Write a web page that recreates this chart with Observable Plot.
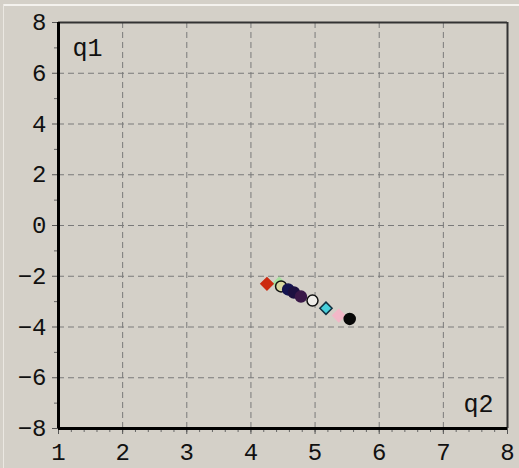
<!DOCTYPE html>
<html>
<head>
<meta charset="utf-8">
<script src="https://cdn.jsdelivr.net/npm/d3@7"></script>
<script src="https://cdn.jsdelivr.net/npm/@observablehq/plot@0.6"></script>
<style>
  html, body { margin: 0; padding: 0; background: #d4d0c8; }
  #wrap { position: relative; width: 519px; height: 468px; overflow: hidden; }
  #edge { position: absolute; left: 3px; top: 4px; right: 0; height: 0; border-top: 2px solid #f4f2ee; }
  #edgeL { position: absolute; left: 3px; top: 4px; bottom: 0; width: 0; border-left: 1px solid #ebe8e2; }
  svg text { font-family: "Liberation Mono", "DejaVu Sans Mono", monospace; }
</style>
</head>
<body>
<div id="wrap"><div id="edge"></div><div id="edgeL"></div></div>
<script>
// Tick labels
const xTicks = [1, 2, 3, 4, 5, 6, 7, 8];
const yTicks = [-8, -6, -4, -2, 0, 2, 4, 6, 8];
const xGrid = [2, 3, 4, 5, 6, 7];
const yGrid = [-6, -4, -2, 0, 2, 4, 6];
const xMinor = d3.range(1, 8.001, 0.2).map(v => +v.toFixed(1));
const yMinor = [-7, -5, -3, -1, 1, 3, 5, 7];

// Data: q2 on x, q1 on y
const q2 = [4.44, 5.37, 4.25, 4.47, 4.58, 4.67, 4.78, 4.96, 5.17, 5.54];
const q1 = [-2.29, -3.55, -2.30, -2.40, -2.52, -2.64, -2.80, -2.96, -3.26, -3.68];

// Marker styles (one per point)
const markerSymbol = ["diamond2", "diamond2", "diamond2", "circle", "circle", "circle", "circle", "circle", "diamond2", "circle"];
const markerFill   = ["#a8e0a0", "#f2b8c8", "#cc2a10", "#d8d8a0", "#141450", "#1c1040", "#3a1848", "#eeece8", "#48d0dc", "#080808"];
const markerStroke = ["#a8e0a0", "#f2b8c8", "#cc2a10", "#111111", "#141450", "#1c1040", "#3a1848", "#111111", "#103040", "#080808"];

const points = q2.map((x, i) => ({
  x, y: q1[i], symbol: markerSymbol[i], fill: markerFill[i], stroke: markerStroke[i]
}));

const chart = Plot.plot({
  width: 519,
  height: 468,
  marginLeft: 58,
  marginRight: 12,
  marginTop: 22,
  marginBottom: 40,
  style: { background: "transparent", fontSize: "24px", color: "#111" },
  x: { domain: [1, 8], label: null },
  y: { domain: [-8, 8], label: null },
  color: { type: "identity" },
  symbol: { type: "identity" },
  marks: [
    Plot.ruleX(xGrid, { stroke: "#7a7a7a", strokeDasharray: "6,4", strokeWidth: 1 }),
    Plot.ruleY(yGrid, { stroke: "#7a7a7a", strokeDasharray: "6,4", strokeWidth: 1 }),
    Plot.axisX(xMinor, { tickSize: 4, text: null, stroke: "#666" }),
    Plot.axisY(yMinor, { tickSize: 4, text: null, stroke: "#666" }),
    Plot.axisX(xTicks, { tickSize: 6, tickPadding: 8, fontSize: 24, stroke: "#555" }),
    Plot.axisY(yTicks, { tickSize: 6, tickPadding: 6, fontSize: 24, stroke: "#555" }),
    Plot.ruleY([8], { stroke: "#333", strokeWidth: 2 }),
    Plot.ruleX([8], { stroke: "#333", strokeWidth: 2 }),
    Plot.ruleX([1], { stroke: "#000", strokeWidth: 3 }),
    Plot.ruleY([-8], { stroke: "#000", strokeWidth: 3 }),
    Plot.dot(points, {
      x: "x", y: "y", symbol: "symbol", fill: "fill", stroke: "stroke",
      r: 5.5, strokeWidth: 1.5
    }),
    Plot.text(["q1"], { frameAnchor: "top-left", dx: 14, dy: 16, fontSize: 25, fill: "#111" }),
    Plot.text(["q2"], { frameAnchor: "bottom-right", dx: -14, dy: -17, fontSize: 25, fill: "#111" })
  ]
});
document.getElementById("wrap").appendChild(chart);
chart.style.position = "absolute";
chart.style.left = "0";
chart.style.top = "0";
</script>
</body>
</html>
